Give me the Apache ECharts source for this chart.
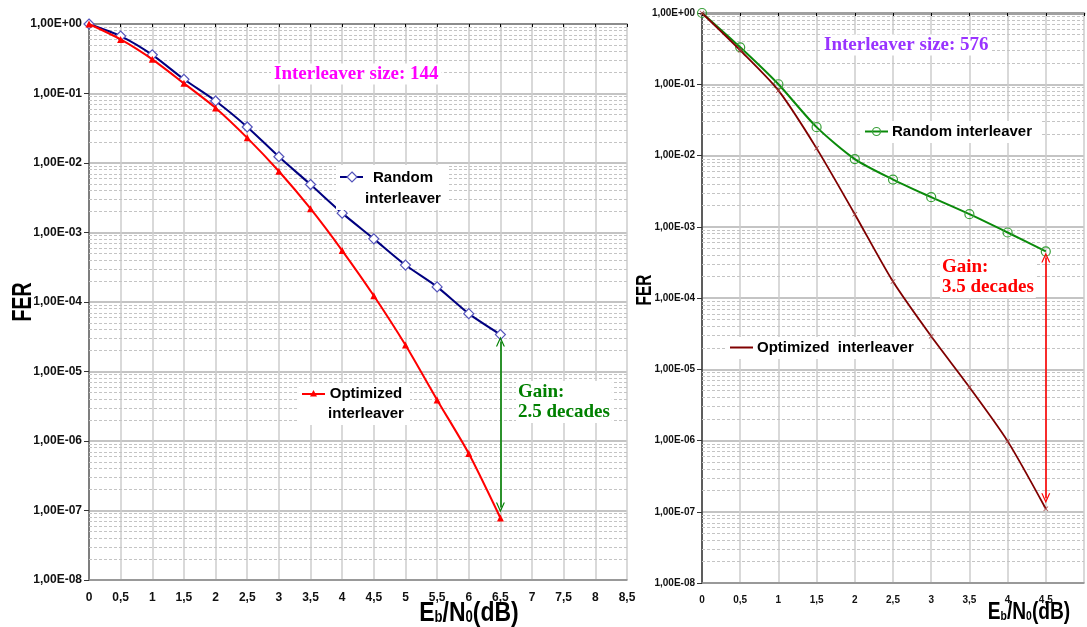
<!DOCTYPE html>
<html><head><meta charset="utf-8">
<script src="https://cdn.jsdelivr.net/npm/echarts@6/dist/echarts.min.js"></script>
<style>html,body{margin:0;padding:0;background:#fff}#c{width:1087px;height:627px}</style>
</head><body><div id="c"></div>
<script>
// ---- data ----
const xLeft = [0, 0.5, 1, 1.5, 2, 2.5, 3, 3.5, 4, 4.5, 5, 5.5, 6, 6.5];
const randomLeft = [1, 0.67, 0.36, 0.16, 0.078, 0.033, 0.0123, 0.0049, 0.0019, 0.00081, 0.00034, 0.000165, 0.000068, 0.000034];
const optimizedLeft = [1, 0.6, 0.31, 0.14, 0.062, 0.023, 0.0076, 0.0022, 0.00055, 0.000123, 0.000024, 0.0000039, 0.00000066, 0.000000078];
const xRight = [0, 0.5, 1, 1.5, 2, 2.5, 3, 3.5, 4, 4.5];
const randomRight = [1, 0.33, 0.1, 0.025, 0.0089, 0.0046, 0.0026, 0.0015, 0.00083, 0.00045];
const optimizedRight = [1, 0.30, 0.082, 0.0126, 0.0015, 0.00017, 0.000029, 0.0000056, 0.00000098, 0.00000011];
const xTickLeft = ['0','0,5','1','1,5','2','2,5','3','3,5','4','4,5','5','5,5','6','6,5','7','7,5','8','8,5'];
const xTickRight = ['0','0,5','1','1,5','2','2,5','3','3,5','4','4,5',''];
const yTicks = ['1,00E+00','1,00E-01','1,00E-02','1,00E-03','1,00E-04','1,00E-05','1,00E-06','1,00E-07','1,00E-08'];
const minorMult = [2, 3, 4, 5, 6, 7, 8, 9];
const gainLeft = { x: 6.5, from: 2.7e-5, to: 1.1e-7 };
const gainRight = { x: 4.5, from: 3.7e-4, to: 1.55e-7 };

// ---- helpers ----
const minorValues = [];
for (let e = -8; e <= -1; e++) minorMult.forEach(k => minorValues.push(k * Math.pow(10, e)));
const pairs = (xs, ys) => xs.map((x, i) => [x, ys[i]]);
const yFmt = v => yTicks[-Math.round(Math.log10(v))] || '';
const arrowSym = 'path://M0,10 L5,0 L10,10 L8.6,10 L5,2.8 L1.4,10 Z';
const crossSym = 'path://M0,1 L1,0 L5,4 L9,0 L10,1 L6,5 L10,9 L9,10 L5,6 L1,10 L0,9 L4,5 Z';
const SANS = '"Liberation Sans", Arial, sans-serif';
const SERIF = '"Liberation Serif", "Times New Roman", serif';

function minorSeries(gi, xmax) {
  return {
    type: 'lines', coordinateSystem: 'cartesian2d', xAxisIndex: gi * 2, yAxisIndex: gi * 2,
    silent: true, z: 1, polyline: false,
    lineStyle: { color: '#c4c4c4', type: [3, 2], width: 1, opacity: 1 },
    data: minorValues.map(v => ({ coords: [[0, v], [xmax, v]] }))
  };
}

function xAxes(gi, max, labels, fontSize, topColor, topWidth) {
  return [
    { type: 'value', gridIndex: gi, min: 0, max: max, interval: 0.5, position: 'bottom',
      axisLine: { lineStyle: { color: '#8a8a8a', width: 1.5 } }, axisTick: { show: false },
      axisLabel: { margin: 12, color: '#111', fontWeight: 'bold', fontSize: fontSize, fontFamily: SANS,
        formatter: v => labels[Math.round(v * 2)] },
      splitLine: { show: true, lineStyle: { color: '#cdcdcd', width: 1.5 } } },
    { type: 'value', gridIndex: gi, min: 0, max: max, interval: 0.5, position: 'top',
      axisLine: { show: true, lineStyle: { color: topColor, width: topWidth } },
      axisTick: { show: true, inside: true, length: 3, lineStyle: { color: '#000', width: 1 } },
      axisLabel: { show: false }, splitLine: { show: false } }
  ];
}
function yAxes(gi, fontSize, rightBorder) {
  return [
    { type: 'log', gridIndex: gi, logBase: 10, min: 1e-8, max: 1, interval: 1,
      axisLine: { show: true, lineStyle: { color: '#333', width: 1.5 } },
      axisTick: { show: true, length: 5, lineStyle: { color: '#333' } },
      axisLabel: { margin: 7, color: '#111', fontWeight: 'bold', fontSize: fontSize, fontFamily: SANS, formatter: yFmt },
      splitLine: { show: true, lineStyle: { color: '#c4c4c4', width: 2 } },
      minorTick: { show: false } },
    { type: 'value', gridIndex: gi, min: 0, max: 1, position: 'right',
      axisLine: { show: rightBorder, lineStyle: { color: '#8a8a8a', width: 1.5 } },
      axisTick: { show: false }, axisLabel: { show: false }, splitLine: { show: false } }
  ];
}

function gainLine(g, color) {
  return {
    silent: true, animation: false, symbol: [arrowSym, arrowSym], symbolSize: [9, 10],
    label: { show: false }, lineStyle: { color: color, width: 1.6, type: 'solid' },
    data: [[{ coord: [g.x, g.from] }, { coord: [g.x, g.to] }]]
  };
}

const chart = echarts.init(document.getElementById('c'), null, { renderer: 'canvas' });
const option = {
  backgroundColor: '#fff',
  animation: false,
  grid: [
    { left: 89, top: 24, width: 538, height: 556 },
    { left: 702, top: 13, width: 390, height: 570 }
  ],
  xAxis: [].concat(xAxes(0, 8.5, xTickLeft, 12, '#7a7a7a', 1.5), xAxes(1, 5, xTickRight, 10, '#a0a0a0', 3)),
  yAxis: [].concat(yAxes(0, 12, true), yAxes(1, 10, false)),
  series: [
    minorSeries(0, 8.5), minorSeries(1, 5),
    { name: 'Random interleaver', type: 'line', xAxisIndex: 0, yAxisIndex: 0, z: 3,
      data: pairs(xLeft, randomLeft), smooth: 0.25,
      lineStyle: { color: '#000080', width: 2 }, symbol: 'diamond', symbolSize: [10, 10],
      itemStyle: { color: '#fff', borderColor: '#5555bb', borderWidth: 1.2 } },
    { name: 'Optimized interleaver', type: 'line', xAxisIndex: 0, yAxisIndex: 0, z: 4,
      data: pairs(xLeft, optimizedLeft), smooth: 0.25,
      lineStyle: { color: '#ff0000', width: 2 }, symbol: 'triangle', symbolSize: [7, 7],
      itemStyle: { color: '#ff0000' },
      markLine: gainLine(gainLeft, '#008000') },
    { name: 'Random interleaver 576', type: 'line', xAxisIndex: 2, yAxisIndex: 2, z: 3,
      data: pairs(xRight, randomRight), smooth: 0.25,
      lineStyle: { color: '#0a8a0a', width: 2 }, symbol: 'circle', symbolSize: 9,
      itemStyle: { color: 'rgba(255,255,255,0)', borderColor: '#3aa03a', borderWidth: 1.2 } },
    { name: 'Optimized interleaver 576', type: 'line', xAxisIndex: 2, yAxisIndex: 2, z: 4,
      data: pairs(xRight, optimizedRight), smooth: 0.25,
      lineStyle: { color: '#800000', width: 1.8 }, symbol: crossSym, symbolSize: 5,
      itemStyle: { color: '#a04040' },
      markLine: gainLine(gainRight, '#ff0000') }
  ],
  graphic: [
    // titles / annotations left
    { type: 'text', x: 271, y: 74, z: 10, style: { text: 'Interleaver size: 144', font: 'bold 19px ' + SERIF, fill: '#ff00ff',
      align: 'left', verticalAlign: 'middle', textAlign: 'left', textVerticalAlign: 'middle', backgroundColor: '#fff', padding: [1, 3] } },
    { type: 'rect', z: 9, shape: { x: 336, y: 165, width: 112, height: 45 }, style: { fill: '#fff' } },
    { type: 'line', z: 10, shape: { x1: 340, y1: 177, x2: 363, y2: 177 }, style: { stroke: '#000080', lineWidth: 2 } },
    { type: 'polygon', z: 11, shape: { points: [[352, 172], [357, 177], [352, 182], [347, 177]] }, style: { fill: '#fff', stroke: '#5555bb', lineWidth: 1.2 } },
    { type: 'text', x: 403, y: 167, z: 10, style: { text: 'Random\ninterleaver', font: 'bold 15px ' + SANS, fill: '#000', lineHeight: 21,
      align: 'center', verticalAlign: 'top', textAlign: 'center', textVerticalAlign: 'top' } },
    { type: 'rect', z: 9, shape: { x: 298, y: 383, width: 112, height: 42 }, style: { fill: '#fff' } },
    { type: 'line', z: 10, shape: { x1: 302, y1: 394, x2: 325, y2: 394 }, style: { stroke: '#ff0000', lineWidth: 2 } },
    { type: 'polygon', z: 11, shape: { points: [[313.5, 390], [317, 396.5], [310, 396.5]] }, style: { fill: '#ff0000' } },
    { type: 'text', x: 366, y: 384, z: 10, style: { text: 'Optimized\ninterleaver', font: 'bold 15px ' + SANS, fill: '#000', lineHeight: 20,
      align: 'center', verticalAlign: 'top', textAlign: 'center', textVerticalAlign: 'top' } },
    { type: 'text', x: 516, y: 381, z: 10, style: { text: 'Gain:\n2.5 decades', font: 'bold 19px ' + SERIF, fill: '#008000', lineHeight: 20,
      align: 'left', verticalAlign: 'top', textAlign: 'left', textVerticalAlign: 'top', backgroundColor: '#fff', padding: [1, 2] } },
    // axis titles left
    { type: 'text', x: 24, y: 302, rotation: Math.PI / 2, scaleX: 0.72, z: 10, style: { text: 'FER', font: 'bold 27px ' + SANS, fill: '#000',
      align: 'center', verticalAlign: 'middle', textAlign: 'center', textVerticalAlign: 'middle' } },
    { type: 'text', x: 469, y: 613, scaleX: 0.82, z: 10, style: {
      text: '{a|E}{s|b}{a|/N}{s|0}{a|(dB)}', align: 'center', verticalAlign: 'middle', textAlign: 'center', textVerticalAlign: 'middle',
      rich: { a: { font: 'bold 28px ' + SANS, fill: '#000', verticalAlign: 'bottom' }, s: { font: 'bold 16px ' + SANS, fill: '#000', verticalAlign: 'bottom', padding: [0, 0, 1, 0] } } } },
    // right annotations
    { type: 'text', x: 821, y: 45, z: 10, style: { text: 'Interleaver size: 576', font: 'bold 19px ' + SERIF, fill: '#9933ff',
      align: 'left', verticalAlign: 'middle', textAlign: 'left', textVerticalAlign: 'middle', backgroundColor: '#fff', padding: [1, 3] } },
    { type: 'rect', z: 9, shape: { x: 861, y: 121, width: 180, height: 22 }, style: { fill: '#fff' } },
    { type: 'line', z: 10, shape: { x1: 865, y1: 131.5, x2: 888, y2: 131.5 }, style: { stroke: '#0a8a0a', lineWidth: 2 } },
    { type: 'circle', z: 11, shape: { cx: 876.5, cy: 131.5, r: 4 }, style: { fill: 'none', stroke: '#3aa03a', lineWidth: 1.2 } },
    { type: 'text', x: 892, y: 132, z: 10, style: { text: 'Random interleaver', font: 'bold 15px ' + SANS, fill: '#000',
      align: 'left', verticalAlign: 'middle', textAlign: 'left', textVerticalAlign: 'middle' } },
    { type: 'rect', z: 9, shape: { x: 726, y: 337, width: 196, height: 22 }, style: { fill: '#fff' } },
    { type: 'line', z: 10, shape: { x1: 730, y1: 347.5, x2: 753, y2: 347.5 }, style: { stroke: '#800000', lineWidth: 2 } },
    { type: 'text', x: 757, y: 348, z: 10, style: { text: 'Optimized  interleaver', font: 'bold 15px ' + SANS, fill: '#000',
      align: 'left', verticalAlign: 'middle', textAlign: 'left', textVerticalAlign: 'middle' } },
    { type: 'text', x: 940, y: 256, z: 10, style: { text: 'Gain:\n3.5 decades', font: 'bold 19px ' + SERIF, fill: '#ff0000', lineHeight: 20,
      align: 'left', verticalAlign: 'top', textAlign: 'left', textVerticalAlign: 'top', backgroundColor: '#fff', padding: [1, 2] } },
    { type: 'text', x: 645, y: 290, rotation: Math.PI / 2, scaleX: 0.7, z: 10, style: { text: 'FER', font: 'bold 22px ' + SANS, fill: '#000',
      align: 'center', verticalAlign: 'middle', textAlign: 'center', textVerticalAlign: 'middle' } },
    { type: 'text', x: 1029, y: 612, scaleX: 0.8, z: 10, style: {
      text: '{a|E}{s|b}{a|/N}{s|0}{a|(dB)}', align: 'center', verticalAlign: 'middle', textAlign: 'center', textVerticalAlign: 'middle',
      rich: { a: { font: 'bold 24px ' + SANS, fill: '#000', verticalAlign: 'bottom' }, s: { font: 'bold 13px ' + SANS, fill: '#000', verticalAlign: 'bottom', padding: [0, 0, 1, 0] } } } }
  ]
};
chart.setOption(option);
</script>
</body></html>
